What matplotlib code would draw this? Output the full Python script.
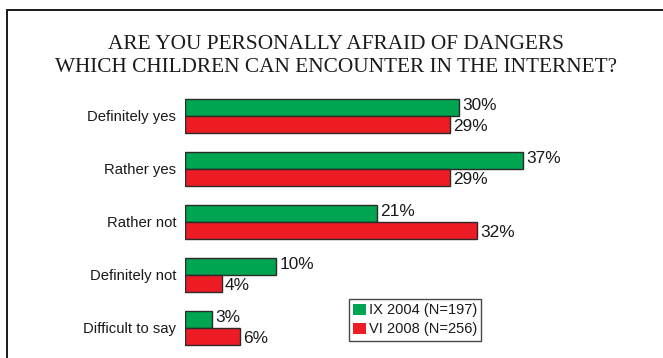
import matplotlib
matplotlib.use('Agg')

import matplotlib.pyplot as plt
from matplotlib.patches import Rectangle, Patch
import numpy as np

categories = ['Definitely yes', 'Rather yes', 'Rather not', 'Definitely not', 'Difficult to say']
series_names = ['IX 2004 (N=197)', 'VI 2008 (N=256)']
values_2004 = [30, 37, 21, 10, 3]
values_2008 = [29, 29, 32, 4, 6]
title_lines = ['ARE YOU PERSONALLY AFRAID OF DANGERS',
               'WHICH CHILDREN CAN ENCOUNTER IN THE INTERNET?']

GREEN = '#00a551'
RED = '#ed1c24'
EDGE = '#2a2a2a'

W, H = 663, 358
fig = plt.figure(figsize=(W / 100, H / 100), dpi=100)
fig.patch.set_facecolor('white')


def px(x, y):
  # pixel position (from top-left) to figure fraction
  return x / W, 1 - y / H


# outer frame, runs off the right and bottom edges
fig.add_artist(Rectangle(px(7, 400), (W + 20) / W, (400 - 9.5) / H,
                         transform=fig.transFigure, fill=False,
                         edgecolor='#1a1a1a', linewidth=1.4))

for i, line in enumerate(title_lines):
  fig.text(0.507, 1 - (44.5 + i * 23) / H, line, ha='center', va='center',
           family='Liberation Serif', fontsize=15.3, color='#1a1a1a')

# axes: x=0 at 185px, 9.14 px per percent; groups spaced 53px
left, top = 185, 116 - 26.5
xmax = 50
ax = fig.add_axes([left / W, 1 - (top + 5 * 53) / H, xmax * 9.14 / W, 5 * 53 / H])
ax.set_xlim(0, xmax)
ax.set_ylim(4.5, -0.5)
ax.axis('off')

pos = np.arange(len(categories))
bh = 17.3 / 53
bars1 = ax.barh(pos - bh / 2, values_2004, bh, color=GREEN, edgecolor=EDGE, linewidth=1.0)
bars2 = ax.barh(pos + bh / 2, values_2008, bh, color=RED, edgecolor=EDGE, linewidth=1.0)

for bars, vals, dy in ((bars1, values_2004, -0.04), (bars2, values_2008, 0.04)):
  for rect, v in zip(bars, vals):
    ax.text(v + 0.35, rect.get_y() + rect.get_height() / 2 + dy, '%d%%' % v,
            ha='left', va='center', family='Liberation Sans', fontsize=12.4,
            color='#1a1a1a')

for p, name in zip(pos, categories):
  ax.text(-0.95, p + 0.02, name, ha='right', va='center',
          family='Liberation Sans', fontsize=10.7, color='#1a1a1a')

handles = [Patch(facecolor=GREEN, edgecolor='none'), Patch(facecolor=RED, edgecolor='none')]
leg = fig.legend(handles, series_names, loc='upper left', bbox_to_anchor=px(349, 299),
                 prop={'family': 'Liberation Sans', 'size': 10.5},
                 frameon=True, fancybox=False, borderaxespad=0, borderpad=0.3,
                 handlelength=0.85, handleheight=0.85, handletextpad=0.2,
                 labelspacing=0.35)
leg.get_frame().set_edgecolor('#1a1a1a')
leg.get_frame().set_linewidth(1.0)
for t in leg.get_texts():
  t.set_color('#1a1a1a')

plt.savefig('out.png', dpi=100)
